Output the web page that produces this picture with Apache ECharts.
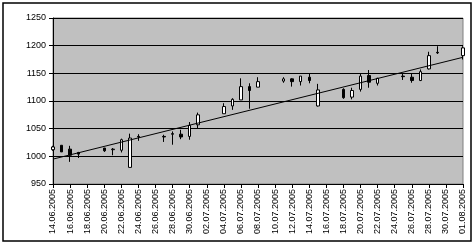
<!DOCTYPE html>
<html><head><meta charset="utf-8">
<script src="https://cdn.jsdelivr.net/npm/echarts@6/dist/echarts.min.js"></script>
<style>html,body{margin:0;padding:0;background:#fff}#c{width:475px;height:246px}</style>
</head><body><div id="c"></div>
<script>
var dates = ['14.06.2005','15.06.2005','16.06.2005','17.06.2005','18.06.2005','19.06.2005','20.06.2005','21.06.2005','22.06.2005','23.06.2005','24.06.2005','25.06.2005','26.06.2005','27.06.2005','28.06.2005','29.06.2005','30.06.2005','01.07.2005','02.07.2005','03.07.2005','04.07.2005','05.07.2005','06.07.2005','07.07.2005','08.07.2005','09.07.2005','10.07.2005','11.07.2005','12.07.2005','13.07.2005','14.07.2005','15.07.2005','16.07.2005','17.07.2005','18.07.2005','19.07.2005','20.07.2005','21.07.2005','22.07.2005','23.07.2005','24.07.2005','25.07.2005','26.07.2005','27.07.2005','28.07.2005','29.07.2005','30.07.2005','31.07.2005','01.08.2005'];
var openV  = [1012,1020,1013,1007,null,null,1015,1012,1011,980,1036,null,null,1036,1041,1040,1036,1057,null,null,1077,1091,1102,1126,1125,null,null,1136,1140,1135,1143,1091,null,null,1121,1107,1121,1146,1132,null,null,1145,1143,1137,1158,1188,null,null,1182];
var closeV = [1017,1008,1002,1004,null,null,1010,1013,1030,1033,1035,null,null,1035,1040,1035,1056,1075,null,null,1090,1103,1126,1119,1135,null,null,1140,1135,1145,1137,1120,null,null,1106,1119,1145,1134,1141,null,null,1144,1137,1153,1182,1187,null,null,1196];
var lowV   = [1010,1008,990,997,null,null,1008,1002,1007,980,1028,null,null,1026,1021,1031,1030,1051,null,null,1077,1084,1102,1086,1125,null,null,1133,1126,1128,1132,1090,null,null,1104,1103,1117,1124,1128,null,null,1138,1133,1136,1157,1185,null,null,1175];
var highV  = [1019,1020,1019,1008,null,null,1015,1015,1032,1041,1040,null,null,1039,1045,1048,1062,1079,null,null,1096,1105,1141,1132,1143,null,null,1143,1141,1145,1150,1131,null,null,1123,1124,1150,1156,1142,null,null,1150,1150,1157,1189,1199,null,null,1199];
var trendStart = 995, trendEnd = 1179;
var yTicks = [950,1000,1050,1100,1150,1200,1250];

var candles = dates.map(function(d,i){
  return openV[i]==null ? '-' : [openV[i], closeV[i], lowV[i], highV[i]];
});
var trend = dates.map(function(d,i){
  return i===0 ? trendStart : (i===dates.length-1 ? trendEnd : '-');
});
var font = {fontFamily:'Liberation Sans, Arial', fontSize:9, color:'#000'};
var chart = echarts.init(document.getElementById('c'));
chart.setOption({
  animation:false,
  graphic:[{type:'rect', shape:{x:3,y:3,width:468,height:238}, style:{fill:'none', stroke:'#000', lineWidth:1.5}, z:100}],
  grid:{left:53, right:12, top:18, bottom:62, show:true, backgroundColor:'#C0C0C0', borderColor:'#808080', borderWidth:1},
  xAxis:{type:'category', data:dates, boundaryGap:false,
    axisLine:{lineStyle:{color:'#000',width:1}},
    axisTick:{interval:1, length:4, lineStyle:{color:'#000'}},
    axisLabel:Object.assign({interval:1, rotate:90, margin:5}, font),
    splitLine:{show:false}},
  yAxis:{type:'value', min:yTicks[0], max:yTicks[yTicks.length-1], interval:50,
    axisLine:{show:true, lineStyle:{color:'#000',width:1}},
    axisTick:{show:true, length:4, lineStyle:{color:'#000'}},
    axisLabel:Object.assign({margin:7, formatter:function(v){return String(v);}}, font),
    splitLine:{show:true, lineStyle:{color:'#000', width:1}}},
  series:[
    {type:'candlestick', data:candles, barWidth:3,
     itemStyle:{color:'#fff', color0:'#000', borderColor:'#000', borderColor0:'#000', borderWidth:1}},
    {type:'line', data:trend, connectNulls:true, symbol:'none', lineStyle:{color:'#000', width:1}, z:5}
  ]
});
</script></body></html>
